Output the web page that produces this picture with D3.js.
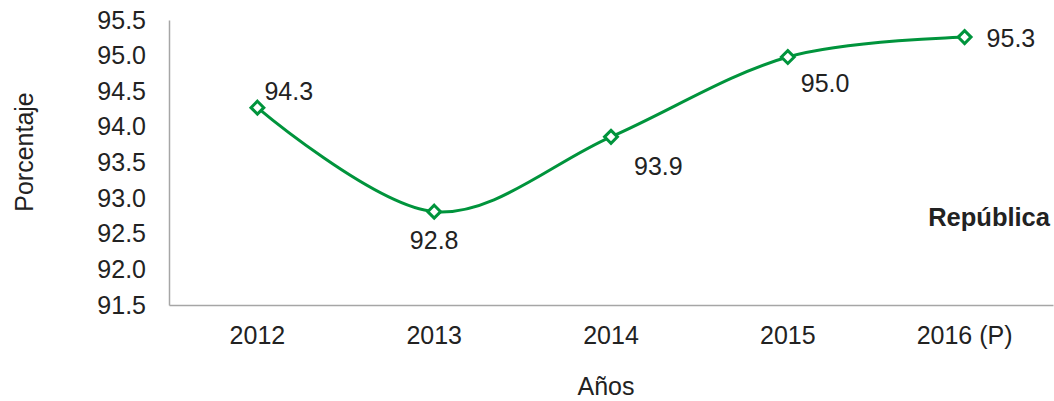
<!DOCTYPE html>
<html>
<head>
<meta charset="utf-8">
<script src="https://cdn.jsdelivr.net/npm/d3@7"></script>
<style>
  body { margin: 0; background: #fff; }
  svg text { font-family: "Liberation Sans", Arial, sans-serif; fill: #222; }
</style>
</head>
<body>
<svg id="chart" width="1054" height="401"></svg>
<script>
// values
let years = ["2012", "2013", "2014", "2015", "2016 (P)"]
let pct = [94.27, 92.81, 93.86, 94.98, 95.26]
let yTicks = [91.5, 92.0, 92.5, 93.0, 93.5, 94.0, 94.5, 95.0, 95.5]

// where each data label sits relative to its point
let labelPos = [
  {dx: 7, dy: -16, anchor: "start"},
  {dx: 0, dy: 29, anchor: "middle"},
  {dx: 23, dy: 29, anchor: "start"},
  {dx: 13, dy: 26, anchor: "start"},
  {dx: 22, dy: 1, anchor: "start"}
]

let svg = d3.select("#chart")
let plotL = 169, plotR = 1053, plotT = 20, plotB = 305
let green = "#00943c"
let fs = 25

let x = d3.scaleBand().domain(years).range([plotL, plotR])
let y = d3.scaleLinear().domain([91.5, 95.5]).range([plotB, plotT])

// axes (lines only, no ticks)
let yAxis = svg.append("g")
  .attr("transform", "translate(" + plotL + ",0)")
  .call(d3.axisLeft(y).tickValues(yTicks).tickSize(0).tickPadding(23).tickFormat(d3.format(".1f")))
yAxis.select(".domain").attr("stroke", "#a6a6a6").attr("stroke-width", 1.5)
yAxis.selectAll("text").attr("font-size", fs).attr("fill", "#222")

let xAxis = svg.append("g")
  .attr("transform", "translate(0," + plotB + ")")
  .call(d3.axisBottom(x).tickSize(0).tickPadding(21))
xAxis.select(".domain").attr("stroke", "#a6a6a6").attr("stroke-width", 1.5)
xAxis.selectAll("text").attr("font-size", fs).attr("fill", "#222")

function cx(i) { return x(years[i]) + x.bandwidth() / 2 }

let line = d3.line()
  .x(function(d, i) { return cx(i) })
  .y(function(d) { return y(d) })
  .curve(d3.curveCardinal.tension(0))

svg.append("path")
  .datum(pct)
  .attr("d", line)
  .attr("fill", "none")
  .attr("stroke", green)
  .attr("stroke-width", 3)

svg.selectAll("path.marker")
  .data(pct)
  .enter()
  .append("path")
    .attr("class", "marker")
    .attr("d", d3.symbol().type(d3.symbolDiamond2).size(105))
    .attr("transform", function(d, i) { return "translate(" + cx(i) + "," + y(d) + ")" })
    .attr("fill", "#fff")
    .attr("stroke", green)
    .attr("stroke-width", 3)

svg.selectAll("text.lbl")
  .data(pct)
  .enter()
  .append("text")
    .attr("class", "lbl")
    .attr("x", function(d, i) { return cx(i) + labelPos[i].dx })
    .attr("y", function(d, i) { return y(d) + labelPos[i].dy })
    .attr("dy", "0.35em")
    .attr("text-anchor", function(d, i) { return labelPos[i].anchor })
    .attr("font-size", fs)
    .text(function(d) { return d3.format(".1f")(d) })

svg.append("text")
  .attr("x", 1050).attr("y", 226)
  .attr("text-anchor", "end")
  .attr("font-size", 25.5)
  .attr("font-weight", "bold")
  .text("República")

svg.append("text")
  .attr("x", 606).attr("y", 395)
  .attr("text-anchor", "middle")
  .attr("font-size", 25)
  .text("Años")

svg.append("text")
  .attr("transform", "translate(33,152) rotate(-90)")
  .attr("text-anchor", "middle")
  .attr("font-size", 25)
  .text("Porcentaje")
</script>
</body>
</html>
